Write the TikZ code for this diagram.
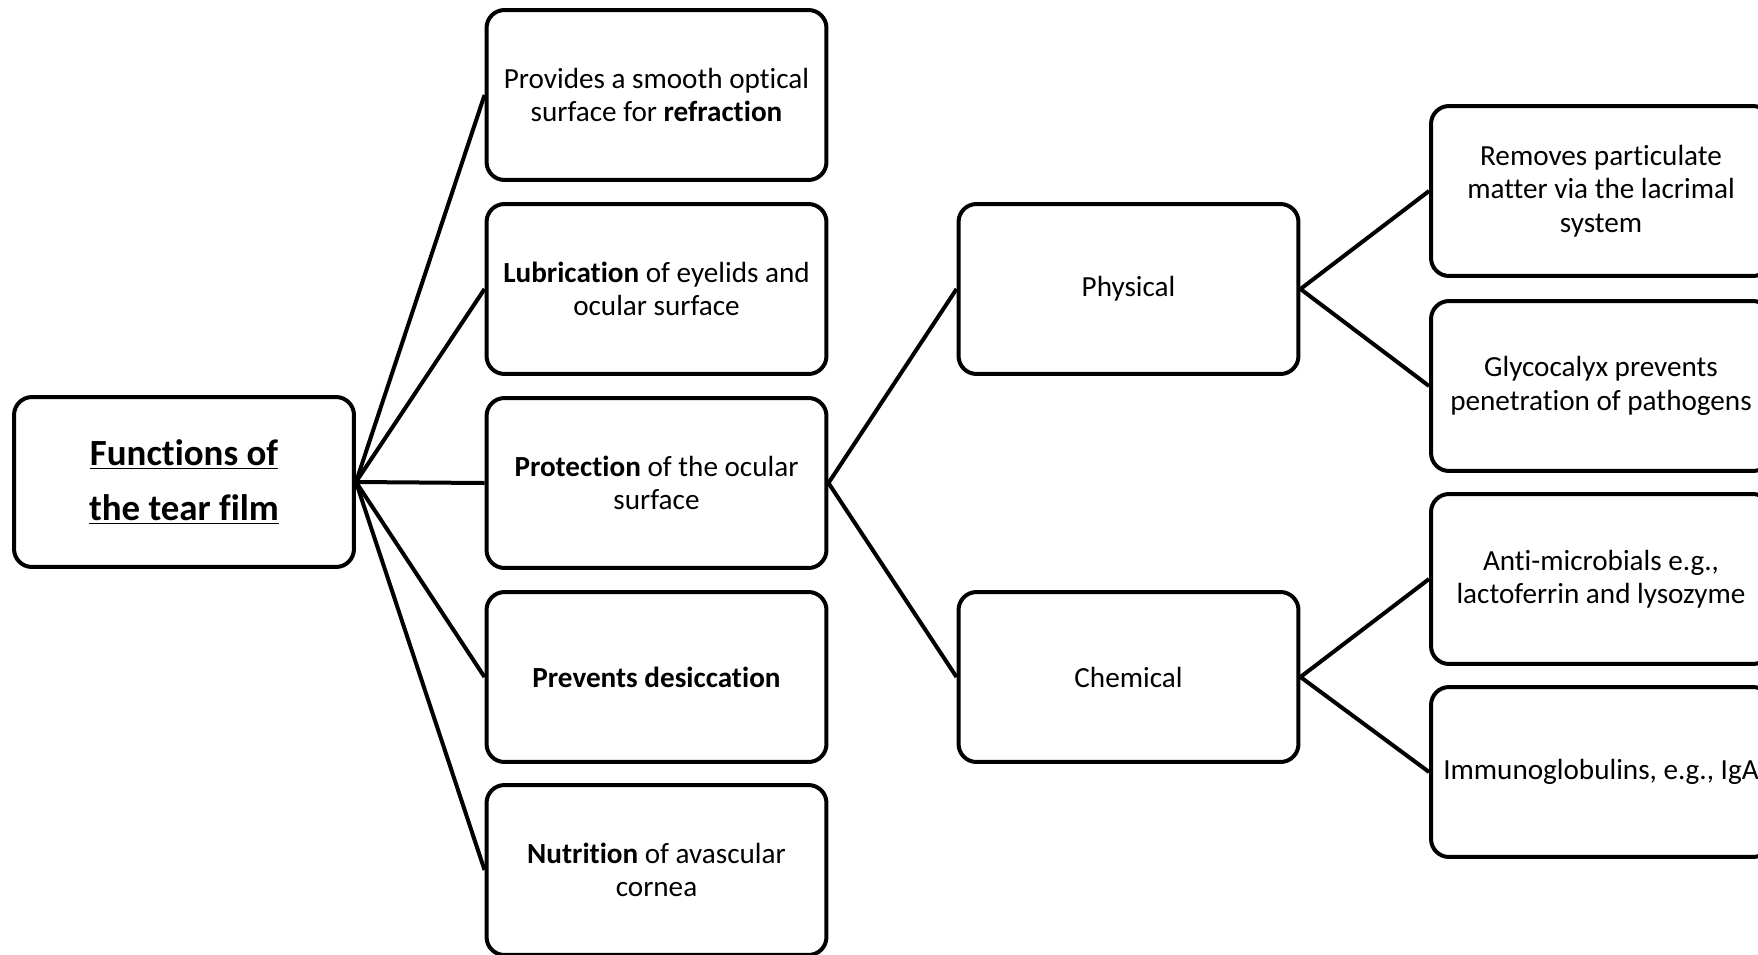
\documentclass[tikz,border=0pt]{standalone}
\usepackage{fontspec}
\setmainfont{Carlito}[Ligatures={NoCommon}]
\usetikzlibrary{positioning}

\begin{document}
\begin{tikzpicture}[x=0.02cm, y=-0.02cm,
    box/.style={draw, line width=0.08cm, rounded corners=0.36cm,
        minimum width=6.8cm, minimum height=3.4cm, inner sep=0pt,
        align=center, font=\fontsize{16.6}{19}\selectfont},
    link/.style={line width=0.08cm}]
    \useasboundingbox (0,0) rectangle (1758,954);

    % Root
    \node[box, font=\fontsize{21}{31.3}\selectfont\bfseries] (root) at (184,482)
        {\underline{Functions of}\\\underline{the tear film}};

    % Functions
    \node[box] (refr) at (656.5,95) {Provides a smooth optical\\surface for \textbf{refraction}};
    \node[box] (lubr) at (656.5,289) {\textbf{Lubrication} of eyelids and\\ocular surface};
    \node[box] (prot) at (656.5,483) {\textbf{Protection} of the ocular\\surface};
    \node[box] (desi) at (656.5,677) {\textbf{Prevents desiccation}};
    \node[box] (nutr) at (656.5,870) {\textbf{Nutrition} of avascular\\cornea};

    % Kinds of protection
    \node[box] (phys) at (1128.5,289) {Physical};
    \node[box] (chem) at (1128.5,677) {Chemical};

    % Details
    \node[box] (part) at (1601,191) {Removes particulate\\matter via the lacrimal\\system};
    \node[box] (glyc) at (1601,386) {Glycocalyx prevents\\penetration of pathogens};
    \node[box] (anti) at (1601,579) {Anti-microbials e.g.,\\lactoferrin and lysozyme};
    \node[box] (immu) at (1601,772) {Immunoglobulins, e.g., IgA};

    % Connectors
    \draw[link] (root.east) -- (refr.west);
    \draw[link] (root.east) -- (lubr.west);
    \draw[link] (root.east) -- (prot.west);
    \draw[link] (root.east) -- (desi.west);
    \draw[link] (root.east) -- (nutr.west);
    \draw[link] (prot.east) -- (phys.west);
    \draw[link] (prot.east) -- (chem.west);
    \draw[link] (phys.east) -- (part.west);
    \draw[link] (phys.east) -- (glyc.west);
    \draw[link] (chem.east) -- (anti.west);
    \draw[link] (chem.east) -- (immu.west);
\end{tikzpicture}
\end{document}
